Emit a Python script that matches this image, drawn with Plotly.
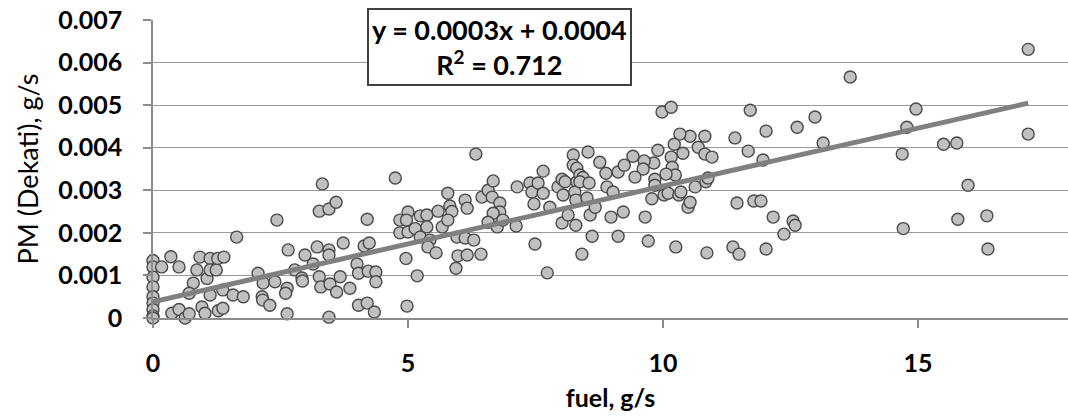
import numpy as np
import plotly.graph_objects as go

# Fuel flow (g/s) and PM mass rate from the Dekati sampler (g/s)
fuel = [
    0, 0, 0, 0, 0, 0, 0, 0, 0,
    0.17, 0.35, 0.51, 0.37, 0.51, 0.63, 0.71, 0.79, 0.71, 0.86, 0.92, 0.96, 1.02, 1.06,
    1.12, 1.12, 1.24, 1.27, 1.39, 1.28, 1.37, 1.12, 1.64, 1.37, 1.57, 1.77, 2.06, 2.16,
    2.14, 2.15, 2.29, 2.43, 2.65, 2.63, 2.60, 2.39, 2.63, 2.98, 2.78, 2.92,
    3.32, 4.75, 3.26, 3.45, 3.59, 4.20, 3.22, 3.45, 3.45, 3.73, 2.93, 3.14, 3.26, 3.29,
    3.47, 3.60, 3.67, 3.86, 4.00, 4.03, 4.14, 4.24, 4.22, 4.37, 4.37, 4.03, 4.20, 4.34,
    3.45, 4.98, 4.96, 5.18, 4.84, 5.00, 4.97, 4.84, 5.00, 5.14, 5.24, 5.37, 5.37, 5.24,
    5.43, 5.39, 5.55, 5.59, 5.67, 5.78, 5.82, 5.86, 5.78, 5.96, 5.98, 5.94, 6.12, 6.16,
    6.12, 6.16,
    6.33, 6.29, 6.43, 6.45, 6.57, 6.67, 6.65, 6.80, 6.80, 6.67, 6.57, 6.75, 6.86, 7.12,
    7.14, 7.39, 7.43, 7.55, 7.65, 7.65, 7.47, 7.78, 7.49, 7.73, 7.94, 8.02, 8.08, 8.04,
    8.02, 8.14, 8.24, 8.24, 8.31, 8.31, 8.27, 8.29, 8.29, 8.53, 8.37, 8.43, 8.37, 8.55,
    8.51, 8.57, 8.61, 8.41, 8.76, 8.88, 8.90, 8.67, 8.98, 9.12, 9.12,
    17.16, 13.67, 9.98, 10.16, 11.71, 14.96, 17.16, 14.78, 14.69, 15.50, 15.76, 15.98,
    14.71, 15.78, 16.35, 16.37, 12.98, 12.63, 13.14, 12.02, 11.41, 11.67, 11.96, 11.45,
    11.78, 11.92, 12.16, 12.55, 12.59, 12.37, 12.02, 11.37, 11.49, 10.86, 10.25, 9.71,
    9.22, 9.65, 9.78, 10.02, 10.10, 10.31, 10.35, 10.49, 10.53, 10.63, 10.84, 10.88,
    10.82, 10.69, 10.82, 10.96, 10.53, 10.33, 10.22, 10.39, 10.16, 9.90, 10.18, 10.24,
    10.06, 9.82, 9.84, 9.63, 9.61, 9.45, 9.41, 9.24, 9.02, 9.84,
]
pm = [
    0.00135, 0.00120, 0.00096, 0.00073, 0.00050, 0.00035, 0.00020, 0.00005, 0.00000,
    0.00120, 0.00144, 0.00120, 0.00011, 0.00020, 0.00000, 0.00010, 0.00082, 0.00058,
    0.00113, 0.00143, 0.00026, 0.00011, 0.00093, 0.00140, 0.00113, 0.00113, 0.00140,
    0.00143, 0.00017, 0.00023, 0.00054, 0.00190, 0.00066, 0.00054, 0.00050, 0.00105,
    0.00082, 0.00050, 0.00042, 0.00030, 0.00230, 0.00160, 0.00070, 0.00058, 0.00085,
    0.00010, 0.00148, 0.00113, 0.00094,
    0.00315, 0.00329, 0.00251, 0.00256, 0.00272, 0.00232, 0.00167, 0.00160, 0.00148,
    0.00176, 0.00087, 0.00127, 0.00097, 0.00073, 0.00080, 0.00061, 0.00097, 0.00070,
    0.00127, 0.00105, 0.00169, 0.00176, 0.00110, 0.00108, 0.00085, 0.00030, 0.00035,
    0.00014, 0.00002, 0.00028, 0.00140, 0.00099, 0.00230, 0.00249, 0.00230, 0.00200,
    0.00202, 0.00210, 0.00240, 0.00242, 0.00214, 0.00190, 0.00183, 0.00167, 0.00153,
    0.00251, 0.00214, 0.00293, 0.00263, 0.00250, 0.00230, 0.00190, 0.00146, 0.00117,
    0.00277, 0.00258, 0.00188, 0.00148,
    0.00385, 0.00183, 0.00150, 0.00284, 0.00300, 0.00322, 0.00284, 0.00270, 0.00249,
    0.00246, 0.00225, 0.00214, 0.00230, 0.00216, 0.00308, 0.00317, 0.00296, 0.00317,
    0.00345, 0.00293, 0.00268, 0.00260, 0.00174, 0.00106, 0.00308, 0.00326, 0.00320,
    0.00289, 0.00223, 0.00242, 0.00383, 0.00359, 0.00352, 0.00320, 0.00296, 0.00277,
    0.00218, 0.00390, 0.00336, 0.00330, 0.00320, 0.00317, 0.00282, 0.00242, 0.00192,
    0.00150, 0.00366, 0.00340, 0.00308, 0.00260, 0.00237, 0.00343, 0.00192,
    0.00631, 0.00566, 0.00484, 0.00495, 0.00488, 0.00491, 0.00432, 0.00448, 0.00385,
    0.00408, 0.00411, 0.00312, 0.00210, 0.00232, 0.00240, 0.00162, 0.00472, 0.00448,
    0.00411, 0.00439, 0.00423, 0.00392, 0.00371, 0.00270, 0.00275, 0.00275, 0.00237,
    0.00228, 0.00218, 0.00197, 0.00162, 0.00167, 0.00150, 0.00153, 0.00167, 0.00181,
    0.00249, 0.00237, 0.00280, 0.00289, 0.00293, 0.00289, 0.00296, 0.00260, 0.00272,
    0.00308, 0.00320, 0.00329, 0.00427, 0.00401, 0.00385, 0.00378, 0.00427, 0.00432,
    0.00408, 0.00387, 0.00378, 0.00394, 0.00354, 0.00336, 0.00338, 0.00364, 0.00326,
    0.00369, 0.00350, 0.00331, 0.00380, 0.00359, 0.00296, 0.00312,
]

# Linear trendline of the full measurement set (coefficients and R²)
trend_slope = 0.000272
trend_intercept = 0.00038
trend_r2 = 0.712

y_ticks = [0, 0.001, 0.002, 0.003, 0.004, 0.005, 0.006, 0.007]
y_tick_text = ["0", "0.001", "0.002", "0.003", "0.004", "0.005", "0.006", "0.007"]
x_ticks = [0, 5, 10, 15]

x_line = np.array([min(fuel), max(fuel)])
y_line = trend_slope * x_line + trend_intercept

FONT = "Lato, 'Open Sans', sans-serif"

fig = go.Figure()
fig.add_trace(go.Scatter(
    x=fuel, y=pm, mode="markers", cliponaxis=False,
    marker=dict(size=12, color="#c0c0c0", line=dict(color="#4a4a4a", width=1.4)),
    showlegend=False, hoverinfo="x+y",
))
fig.add_trace(go.Scatter(
    x=x_line, y=y_line, mode="lines", cliponaxis=False,
    line=dict(color="#808080", width=5), showlegend=False, hoverinfo="skip",
))

fig.add_annotation(
    xref="paper", yref="paper", x=0.379, y=0.911,
    xanchor="center", yanchor="middle", showarrow=False,
    text=(f"<b>y = {trend_slope:.4f}x + {trend_intercept:.4f}</b><br>"
          f"<b>R<sup>2</sup> = {trend_r2:.3f}</b>"),
    font=dict(family=FONT, size=27, color="#000000"),
    align="center", bgcolor="#ffffff", bordercolor="#404040",
    borderwidth=2, borderpad=3,
)

fig.update_layout(
    width=1068, height=419,
    margin=dict(l=153, r=0, t=20, b=101),
    paper_bgcolor="#ffffff", plot_bgcolor="#ffffff",
    font=dict(family=FONT, color="#000000"),
)
fig.update_xaxes(
    range=[0, 17.94], tickvals=x_ticks, showgrid=False, zeroline=False,
    showline=True, linecolor="#8c8c8c", linewidth=1.5,
    ticks="outside", ticklen=8, tickcolor="#8c8c8c", tickwidth=1.5,
    ticklabelstandoff=14,
    tickfont=dict(family=FONT, size=25, color="#000000", weight="bold"),
    title=dict(text="<b>fuel, g/s</b>", standoff=14,
               font=dict(family=FONT, size=25, color="#000000")),
)
fig.update_yaxes(
    range=[0, 0.007], tickvals=y_ticks, ticktext=y_tick_text,
    showgrid=True, gridcolor="#9a9a9a", gridwidth=1.3, zeroline=False,
    showline=True, linecolor="#8c8c8c", linewidth=1.5,
    ticks="outside", ticklen=8, tickcolor="#8c8c8c", tickwidth=1.5,
    ticklabelstandoff=16,
    tickfont=dict(family=FONT, size=25, color="#000000", weight="bold"),
    title=dict(text="PM (Dekati), g/s", standoff=12,
               font=dict(family=FONT, size=27, color="#000000")),
)

fig.write_html("out.html")
